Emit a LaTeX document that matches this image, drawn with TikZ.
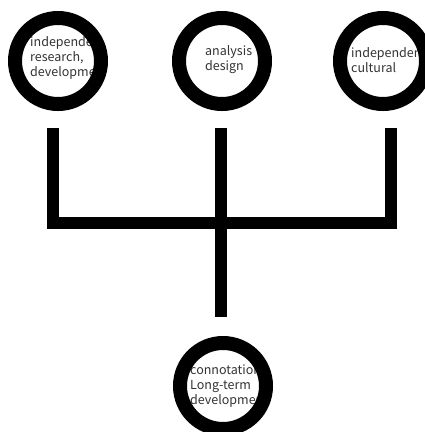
\documentclass[tikz,border=0pt]{standalone}
\usepackage{fontspec}
\setmainfont{Noto Sans CJK KR}
\usetikzlibrary{positioning}

\tikzset{
	ring/.style={circle, draw=black, line width=14pt, minimum size=86pt, inner sep=0pt},
	ringtext/.style={anchor=west, align=left, inner sep=0pt, text=black!80,
		font=\fontsize{12.5}{15}\selectfont},
	bar/.style={draw=black, line width=12pt, line join=miter},
}

\begin{document}
\begin{tikzpicture}[x=1pt, y=-1pt]

	% ------------------------------------------------
	% Page size and white background
	\fill[white] (0,0) rectangle (425,432);
	\useasboundingbox (0,0) rectangle (425,432);

	% ------------------------------------------------
	% Ring centres
	\coordinate (ResearchC) at (58,61);
	\coordinate (AnalysisC) at (222,61);
	\coordinate (CulturalC) at (383,61);
	\coordinate (LongtermC) at (223,386);

	% ----------------
	% Texts, running in under the rings
	\begin{scope}
		\clip (ResearchC) circle (43pt);
		\node[ringtext] (ResearchText) at (30,58) {independent\\research,\\development};
	\end{scope}
	\begin{scope}
		\clip (AnalysisC) circle (43pt);
		\node[ringtext] (AnalysisText) at (205,60) {analysis\\design};
	\end{scope}
	\begin{scope}
		\clip (CulturalC) circle (43pt);
		\node[ringtext] (CulturalText) at (351,60) {independent\\cultural};
	\end{scope}
	\begin{scope}
		\clip (LongtermC) circle (43pt);
		\node[ringtext] (LongtermText) at (190,386) {connotation\\Long-term\\development};
	\end{scope}

	% ----------------
	% Rings
	\node[ring] (Research) at (ResearchC) {};
	\node[ring] (Analysis) at (AnalysisC) {};
	\node[ring] (Cultural) at (CulturalC) {};
	\node[ring] (Longterm) at (LongtermC) {};

	% ------------------------------------------------
	% Relevant coordinates
	\path (Research) +(-5,67)  coordinate (ResearchFoot);
	\path (Analysis) +(-1,67)  coordinate (AnalysisFoot);
	\path (Cultural) +(8,67)   coordinate (CulturalFoot);
	\path (Longterm) +(-2,-69) coordinate (LongtermFoot);
	\path (AnalysisFoot) +(0,95) coordinate (Joint);

	% ------------------------------------------------
	% Bars
	\draw[bar] (ResearchFoot) |- (Joint) -| (CulturalFoot);
	\draw[bar] (AnalysisFoot) -- (LongtermFoot);

\end{tikzpicture}
\end{document}
